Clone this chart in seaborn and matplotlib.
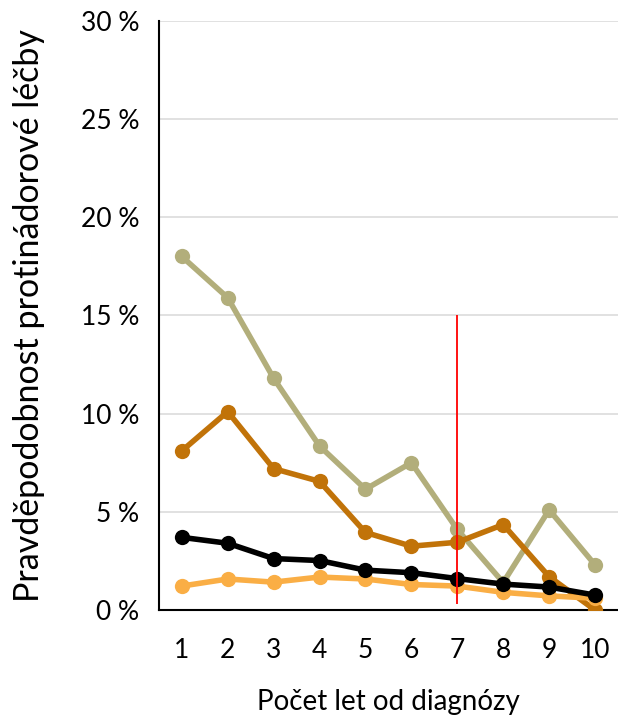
import numpy as np
import pandas as pd
import matplotlib
matplotlib.use("Agg")
import matplotlib.pyplot as plt
import seaborn as sns
from matplotlib.ticker import FuncFormatter, FixedLocator


# -----------------------------
# Data
# -----------------------------
YEARS = [1, 2, 3, 4, 5, 6, 7, 8, 9, 10]
SERIES_OLIVE = [18.0, 15.9, 11.8, 8.35, 6.15, 7.5, 4.1, 1.4, 5.1, 2.3]
SERIES_DARK_ORANGE = [8.1, 10.1, 7.2, 6.55, 3.95, 3.25, 3.45, 4.35, 1.7, 0.0]
SERIES_LIGHT_ORANGE = [1.22, 1.58, 1.42, 1.68, 1.58, 1.3, 1.22, 0.9, 0.72, 0.6]
SERIES_BLACK = [3.7, 3.4, 2.62, 2.52, 2.03, 1.9, 1.6, 1.32, 1.17, 0.76]

SERIES_NAMES = ["A", "B", "C", "D"]
SERIES_COLORS = {"A": "#B2AE7B", "B": "#C17309", "C": "#FAAE45", "D": "#000000"}

# reference marker line at year 7
REF_YEAR = 7
REF_LOW = 0.3
REF_HIGH = 15.0

Y_TICKS = [0, 5, 10, 15, 20, 25, 30]
X_LABEL = "Počet let od diagnózy"
Y_LABEL = "Pravděpodobnost protinádorové léčby"


def build_frame():
    rows = []
    for name, vals in zip(
        SERIES_NAMES,
        [SERIES_OLIVE, SERIES_DARK_ORANGE, SERIES_LIGHT_ORANGE, SERIES_BLACK],
    ):
        for x, v in zip(YEARS, vals):
            rows.append({"year": x, "value": v, "series": name})
    return pd.DataFrame(rows)


def main():
    sns.set_style("white")
    plt.rcParams["font.family"] = ["Lato", "DejaVu Sans"]
    plt.rcParams["text.color"] = "black"
    plt.rcParams["axes.labelcolor"] = "black"
    plt.rcParams["xtick.color"] = "black"
    plt.rcParams["ytick.color"] = "black"

    df = build_frame()

    fig = plt.figure(figsize=(6.18, 7.16), dpi=100)
    ax = fig.add_axes([0.257, 0.148, 0.743, 0.823])

    sns.lineplot(
        data=df,
        x="year",
        y="value",
        hue="series",
        hue_order=SERIES_NAMES,
        palette=SERIES_COLORS,
        marker="o",
        markersize=11,
        markeredgewidth=0,
        linewidth=4,
        legend=False,
        ax=ax,
        zorder=3,
    )

    ax.vlines(REF_YEAR, REF_LOW, REF_HIGH, colors="#FF0000", linewidth=1.3, zorder=5)

    # axes
    ax.set_xlim(0.5, 10.5)
    ax.set_ylim(0, 30)
    ax.set_yticks(Y_TICKS)
    ax.yaxis.set_major_formatter(FuncFormatter(lambda v, _: f"{v:.0f} %"))
    ax.yaxis.grid(True, color="#DCDCDC", linewidth=1.2)
    ax.set_axisbelow(True)

    ax.set_xticks(YEARS)
    ax.xaxis.set_minor_locator(FixedLocator(np.arange(0.5, 11, 1.0)))
    ax.tick_params(axis="x", which="major", length=0, pad=20, labelsize=19)
    ax.tick_params(axis="x", which="minor", length=8, width=1.2, direction="out", color="black")
    ax.tick_params(axis="y", which="major", length=8, width=1.2, direction="out",
                   color="black", labelsize=19, pad=6)

    for side in ["top", "right"]:
        ax.spines[side].set_visible(False)
    for side in ["left", "bottom"]:
        ax.spines[side].set_color("black")
        ax.spines[side].set_linewidth(1.5)

    ax.set_xlabel(X_LABEL, fontsize=20, labelpad=19)
    ax.set_ylabel(Y_LABEL, fontsize=24.5, labelpad=26)

    fig.savefig("out.png", dpi=100)
    plt.close(fig)


if __name__ == "__main__":
    main()
